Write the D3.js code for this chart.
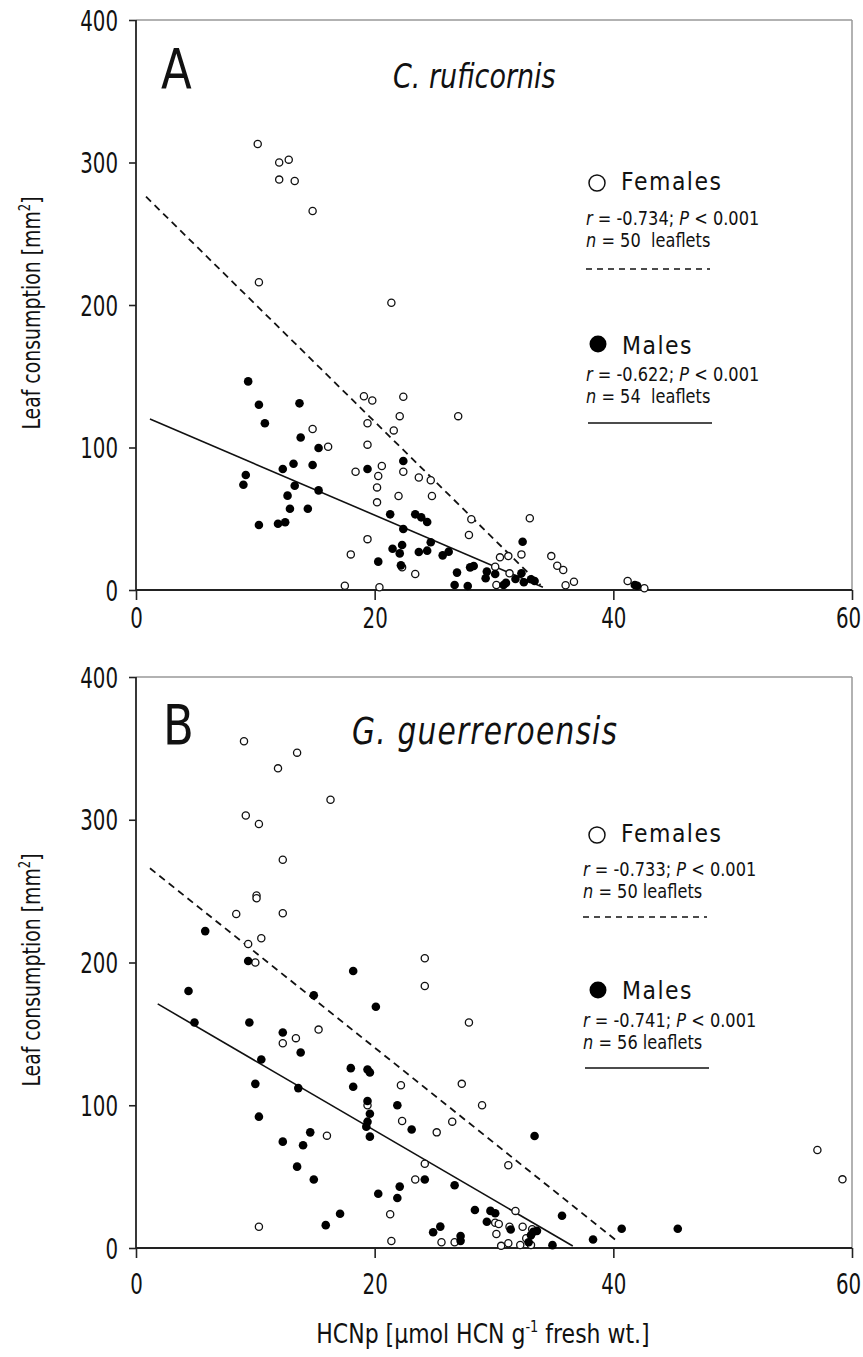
<!DOCTYPE html>
<html><head><meta charset="utf-8">
<script src="https://cdn.jsdelivr.net/npm/d3@7"></script>
<style>
body{margin:0;background:#fff;}
svg text{font-family:"DejaVu Sans Condensed","DejaVu Sans",sans-serif;font-stretch:condensed;fill:#111;white-space:pre;}
svg text.wide{font-family:"DejaVu Sans",sans-serif;font-stretch:normal;}
</style></head>
<body><svg id="c" width="863" height="1357"></svg>
<script>
// ---------- DATA ----------
const xTicks = [0, 20, 40, 60];
const yTicks = [0, 100, 200, 300, 400];
const panelLetters = ["A", "B"];
const speciesNames = ["C. ruficornis", "G. guerreroensis"];
const femaleStats = [["-0.734", "50  leaflets"], ["-0.733", "50 leaflets"]];
const maleStats = [["-0.622", "54  leaflets"], ["-0.741", "56 leaflets"]];

const femalesA = [[10.2,313],[12.0,300],[12.8,302],[12.0,288],[13.3,287],[14.8,266],[10.3,216],
 [14.8,113],[16.1,100.5],[19.1,136],[19.8,133],[19.4,117],[19.4,102],[18.4,83],[20.3,80],[20.2,72],
 [20.2,61.5],[19.4,35.7],[18.0,25],[17.5,3],[20.6,87],
 [21.4,201.6],[22.4,135.6],[22.1,122],[27.0,122],[21.6,112],[22.4,83],[23.7,79],[24.7,77],[22.0,66],
 [24.8,66],[28.1,49.6],[27.9,38.6],[33.0,50.3],[22.3,15.9],[23.4,11.2],[20.4,1.9],[30.5,22.9],[31.2,23.8],
 [30.1,16.3],[31.3,11.7],[30.2,3.5],
 [32.3,25],[34.8,23.8],[35.3,17],[35.8,14],[36.0,3.3],[36.7,5.8],[41.2,6.3],[42.6,1.2]];
const malesA = [[9.4,146.4],[10.3,130],[13.7,131],[10.8,117],[13.8,107],[15.3,99.6],[14.8,87.7],[13.2,88.6],
 [12.3,84.9],[19.4,84.9],[9.2,80.7],[9.0,73.9],[13.3,73.2],[15.3,69.9],[12.7,66.2],[12.9,57],[14.4,57],
 [10.3,45.6],[11.9,46.5],[12.5,47.5],[20.3,19.9],
 [22.4,90.5],[21.3,53.1],[23.4,53.1],[23.9,51],[24.4,47.7],[22.4,42.8],[24.7,33.5],[22.3,31.6],[21.5,29],
 [22.1,25.7],[23.7,26.7],[24.4,27.6],[25.7,24.3],[26.2,26.9],[22.2,17.3],[28.0,15.9],[28.3,16.8],[26.9,12.2],
 [26.7,3.5],[27.8,2.8],[29.4,12.9],[30.1,11.2],[29.3,8.2],[30.8,3.5],[32.4,33.9],[31.8,7.7],[32.5,5.4],
 [32.3,11.7],[33.1,7.5],[33.4,6.3],[31.0,5],[41.8,3.5],[42.0,3]];
const femalesB = [[9.05,355],[13.5,347],[11.9,336],[16.3,314],[9.2,303],[10.3,297],[12.3,272],[10.1,247],
 [10.1,245],[8.4,234],[12.3,234.5],[10.5,217],[9.4,213],[10.0,200],
 [12.3,143.4],[13.4,147],[15.3,153],[19.4,100],[16.0,78.7],[10.3,14.9],
 [24.2,203],[24.2,183.5],[27.9,158],[22.2,114],[27.3,115],[29.0,100],[22.3,89],[26.5,88.5],[25.2,81],
 [31.2,58],[24.2,59],[23.4,48],[31.8,26],[21.3,23.6],[30.1,17.7],[30.4,16.8],[31.3,14.9],[32.4,14.9],
 [30.2,9.8],[32.7,6.8],[33.2,13.1],[21.4,4.9],[25.6,4],[26.7,4],[31.2,3.3],[32.2,2.1],[33.1,2.1],[30.6,1.5],
 [57.1,68.7],[59.2,48.1]];
const malesB = [[5.8,222],[9.4,201],[18.2,194],[4.4,180],[14.9,177],
 [20.1,169],[4.9,158],[9.5,158],[12.3,151],[13.8,137],[10.5,132],[18.0,126],[19.4,125],[19.6,123],[10.0,115],
 [13.6,112],[18.2,113],[19.4,103],[19.6,94],[19.4,88.5],[19.3,85],[19.6,78],[10.3,92],[14.6,81],[12.3,74.5],
 [14.0,72],[13.5,57],[14.9,48],[20.3,38],[17.1,24],[15.9,16],
 [21.9,100],[23.1,83],[33.4,78.5],[24.2,48],[26.7,44],[22.1,43],[21.9,35],[28.4,26.6],[29.7,26],[30.1,24.3],
 [29.4,18.4],[35.7,22.6],[25.5,15],[24.9,11],[27.2,8.4],[27.2,5],[31.4,13],[33.3,11.4],[33.6,12],[33.1,9],
 [34.9,2],[38.3,6],[40.7,13.5],[45.4,13.5],[32.9,4]];
const fitFemalesA = [[0.84,276],[33.9,3.5]];
const fitMalesA = [[1.17,120],[34.1,2]];
const fitFemalesB = [[1.17,266],[40.2,5.6]];
const fitMalesB = [[1.82,171],[36.6,1.4]];

// ---------- DRAW ----------
const svg = d3.select("#c");
const x = d3.scaleLinear().domain([0,60]).range([136,852]);
const SY = 1.28; // vertical glyph stretch seen in the reference

function txt(g, px, py, size, sy, cls){
  const t = g.append("text").attr("transform",`translate(${px},${py}) scale(1,${sy||SY})`).attr("font-size",size);
  if(cls) t.attr("class",cls);
  return t;
}

const panels = [
 {top:20, bottom:590, f:femalesA, m:malesA, ff:fitFemalesA, fm:fitMalesA, xlab:28,
  leg:{fy:183, fty:190, fr:225, fn:247, fl:269, fx0:586, fx1:710, my:344, mty:354, mr:381, mn:403, ml:423},
  tx:393, lx:161, ty:88, tsize:30, tls:0, ylab:313},
 {top:677, bottom:1248, f:femalesB, m:malesB, ff:fitFemalesB, fm:fitMalesB, xlab:36,
  leg:{fy:835, fty:842, fr:876, fn:898, fl:917, fx0:583, fx1:707, my:990, mty:999, mr:1027, mn:1049, ml:1068},
  tx:352, lx:163, ty:744, tsize:33, tls:1.2, ylab:970}
];

panels.forEach((p,i)=>{
  const y = d3.scaleLinear().domain([0,400]).range([p.bottom,p.top]);
  const g = svg.append("g");
  // frame top/right
  g.append("line").attr("x1",x(0)).attr("x2",x(60)).attr("y1",y(400)).attr("y2",y(400)).attr("stroke","#999").attr("stroke-width",1.5);
  g.append("line").attr("x1",x(60)).attr("x2",x(60)).attr("y1",y(400)).attr("y2",y(0)).attr("stroke","#999").attr("stroke-width",1.5);
  // axes
  const ya = g.append("g").attr("transform",`translate(${x(0)},0)`)
    .call(d3.axisLeft(y).tickValues(yTicks).tickSize(7).tickPadding(12).tickFormat(d3.format("d")));
  const xa = g.append("g").attr("transform",`translate(0,${y(0)})`)
    .call(d3.axisBottom(x).tickValues(xTicks).tickSize(10).tickPadding(16).tickFormat(d3.format("d")));
  [ya,xa].forEach(a=>{
    a.select(".domain").attr("stroke","#222").attr("stroke-width",1.8);
    a.selectAll(".tick line").attr("stroke","#222").attr("stroke-width",1.6);
    a.selectAll(".tick text").attr("font-size",22).attr("fill","#111")
      .style("font-family",'"DejaVu Sans Condensed","DejaVu Sans",sans-serif');
  });
  ya.selectAll(".tick text").attr("x",-18).attr("dy","0.36em").attr("transform",`scale(1,${SY})`);
  xa.selectAll(".tick text").attr("y",0).attr("dy","0.36em")
    .attr("transform",(d)=>`translate(${d===60?-4:0},${p.xlab}) scale(1,${SY})`);
  ya.select(".domain").attr("d",`M0,${y(400)}V${y(0)}`);
  xa.select(".domain").attr("d",`M${x(0)},0H${x(60)}`);

  // y label
  const yl = g.append("text").attr("transform",`translate(40,${p.ylab}) rotate(-90) scale(1,1.2)`)
    .attr("text-anchor","middle").attr("font-size",21);
  yl.append("tspan").text("Leaf consumption [mm");
  yl.append("tspan").attr("font-size",13).attr("dy",-8).text("2");
  yl.append("tspan").attr("dy",8).text("]");

  // panel letter + species
  txt(g, p.lx, p.ty, 50, 1.12).text(panelLetters[i]);
  txt(g, p.tx, p.ty, p.tsize, 1.15).attr("font-style","italic").style("letter-spacing",p.tls+"px").text(speciesNames[i]);

  // fits
  const line = d3.line().x(d=>x(d[0])).y(d=>y(d[1]));
  g.append("path").attr("d",line(p.ff)).attr("fill","none").attr("stroke","#111").attr("stroke-width",1.8).attr("stroke-dasharray","7,5");
  g.append("path").attr("d",line(p.fm)).attr("fill","none").attr("stroke","#111").attr("stroke-width",1.6);

  // points
  g.selectAll(".f").data(p.f).join("circle").attr("cx",d=>x(d[0])).attr("cy",d=>y(d[1])).attr("r",3.6)
    .attr("fill","#fff").attr("stroke","#111").attr("stroke-width",1.3);
  g.selectAll(".m").data(p.m).join("circle").attr("cx",d=>x(d[0])).attr("cy",d=>y(d[1])).attr("r",4.3)
    .attr("fill","#000");

  // legend
  const L = p.leg;
  g.append("circle").attr("cx",597).attr("cy",L.fy).attr("r",8).attr("fill","#fff").attr("stroke","#111").attr("stroke-width",1.5);
  txt(g, 621, L.fty, 22, 1.15, "wide").style("letter-spacing","1.5px").text("Females");
  const stat = (yy, r)=>{
    const t1 = txt(g, L.fx0, yy, 18, 1.12);
    t1.append("tspan").attr("font-style","italic").text("r");
    t1.append("tspan").text(" = " + r + "; ");
    t1.append("tspan").attr("font-style","italic").text("P");
    t1.append("tspan").text(" < 0.001");
  };
  const nline = (yy, n)=>{
    const t = txt(g, L.fx0, yy, 18, 1.12);
    t.append("tspan").attr("font-style","italic").text("n");
    t.append("tspan").text(" = " + n);
  };
  stat(L.fr, femaleStats[i][0]); nline(L.fn, femaleStats[i][1]);
  g.append("line").attr("x1",L.fx0).attr("x2",L.fx1).attr("y1",L.fl).attr("y2",L.fl).attr("stroke","#111").attr("stroke-width",1.5).attr("stroke-dasharray","6,5");
  g.append("circle").attr("cx",598).attr("cy",L.my).attr("r",8.5).attr("fill","#000");
  txt(g, 622, L.mty, 22, 1.15, "wide").style("letter-spacing","1.5px").text("Males");
  stat(L.mr, maleStats[i][0]); nline(L.mn, maleStats[i][1]);
  g.append("line").attr("x1",L.fx0+2).attr("x2",L.fx1+2).attr("y1",L.ml).attr("y2",L.ml).attr("stroke","#111").attr("stroke-width",1.5);
});

// x label
const xl = txt(svg, 483, 1343, 22, 1.2, "wide").attr("text-anchor","middle");
xl.append("tspan").text("HCNp [µmol HCN g");
xl.append("tspan").attr("font-size",13).attr("dy",-9).text("-1");
xl.append("tspan").attr("dy",9).text(" fresh wt.]");
</script></body></html>
